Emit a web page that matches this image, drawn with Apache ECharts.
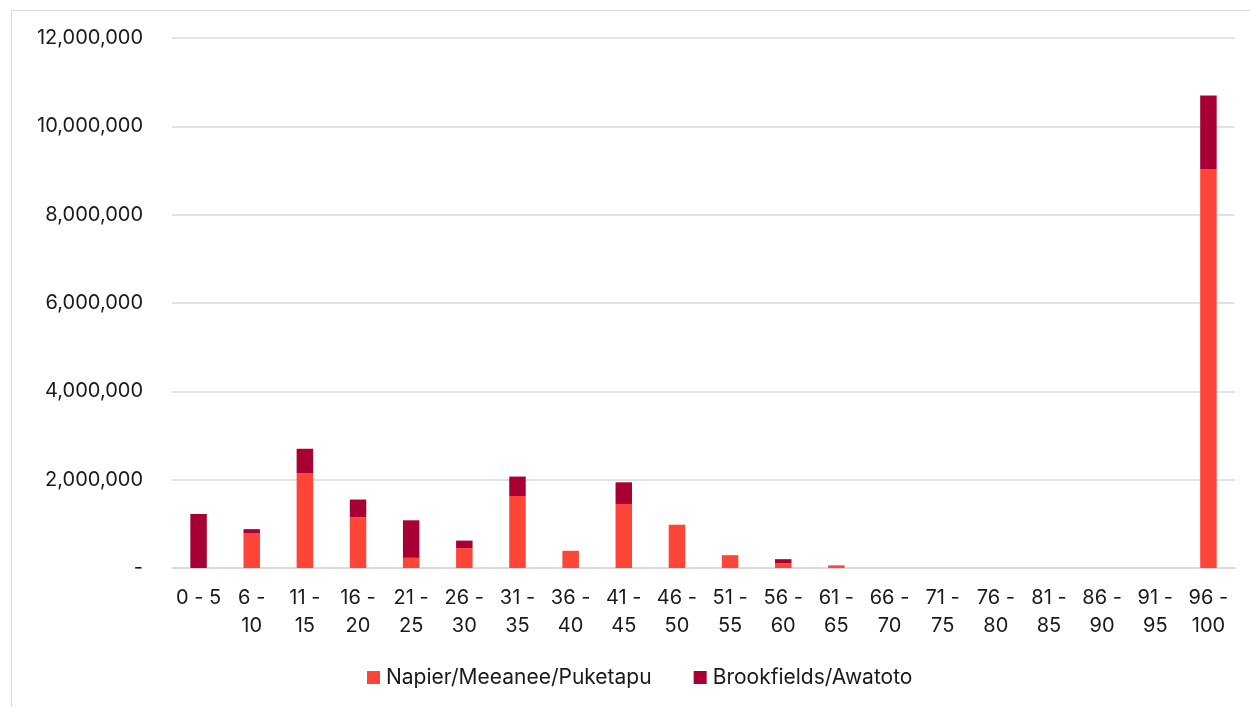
<!DOCTYPE html>
<html>
<head>
<meta charset="utf-8">
<script src="https://cdn.jsdelivr.net/npm/echarts@6/dist/echarts.min.js"></script>
<style>
  html, body { margin: 0; padding: 0; background: #fff; }
  #frame { position: absolute; left: 11px; top: 10px; width: 1250px; height: 720px; border-left: 1px solid #d9d9d9; border-top: 1px solid #d9d9d9; }
  #chart { position: absolute; left: 0; top: 0; width: 1250px; height: 707px; }
</style>
</head>
<body>
<div id="frame"></div>
<div id="chart"></div>
<script>
// Size bands (percent) along the category axis
const categories = ['0 - 5', '6 - 10', '11 - 15', '16 - 20', '21 - 25', '26 - 30', '31 - 35', '36 - 40', '41 - 45', '46 - 50',
  '51 - 55', '56 - 60', '61 - 65', '66 - 70', '71 - 75', '76 - 80', '81 - 85', '86 - 90', '91 - 95', '96 - 100'];

// Stacked series values
const napierMeeaneePuketapu = [0, 780000, 2140000, 1150000, 230000, 450000, 1630000, 390000, 1450000, 980000,
  290000, 110000, 60000, 0, 0, 0, 0, 0, 0, 9020000];
const brookfieldsAwatoto = [1220000, 100000, 560000, 400000, 850000, 170000, 440000, 0, 490000, 0,
  0, 90000, 0, 0, 0, 0, 0, 0, 0, 1680000];

// Value axis ticks
const yTicks = [0, 2000000, 4000000, 6000000, 8000000, 10000000, 12000000];

const font = 'Inter, "Noto Sans", sans-serif';
const chart = echarts.init(document.getElementById('chart'), null, { renderer: 'canvas' });

chart.setOption({
  animation: false,
  textStyle: { fontFamily: font },
  grid: { left: 172, right: 15, top: 38, bottom: 139, containLabel: false },
  legend: {
    top: 662,
    left: 362,
    itemWidth: 13,
    itemHeight: 13,
    itemGap: 42,
    icon: 'rect',
    textStyle: { fontSize: 21, color: '#1a1a1a', fontFamily: font, padding: [0, 0, 0, 1] },
    data: ['Napier/Meeanee/Puketapu', 'Brookfields/Awatoto']
  },
  xAxis: {
    type: 'category',
    data: categories,
    axisLine: { show: true, lineStyle: { color: '#d9d9d9', width: 1.5 } },
    axisTick: { show: false },
    axisLabel: {
      interval: 0,
      margin: 16,
      fontSize: 20,
      lineHeight: 28,
      color: '#1a1a1a',
      formatter: s => s.length > 5 ? s.replace(/ (\d+)$/, '\n$1') : s
    }
  },
  yAxis: {
    type: 'value',
    min: yTicks[0],
    max: yTicks[yTicks.length - 1],
    interval: yTicks[1] - yTicks[0],
    axisLine: { show: false },
    axisTick: { show: false },
    splitLine: { lineStyle: { color: '#d9d9d9', width: 1.5 } },
    axisLabel: {
      margin: 29,
      fontSize: 20,
      color: '#1a1a1a',
      formatter: v => v === 0 ? '-' : v.toLocaleString('en-US')
    }
  },
  series: [
    {
      name: 'Napier/Meeanee/Puketapu',
      type: 'bar',
      stack: 'total',
      barWidth: '31%',
      itemStyle: { color: '#ff4438' },
      data: napierMeeaneePuketapu
    },
    {
      name: 'Brookfields/Awatoto',
      type: 'bar',
      stack: 'total',
      barWidth: '31%',
      itemStyle: { color: '#a80034' },
      data: brookfieldsAwatoto
    }
  ]
});
</script>
</body>
</html>
